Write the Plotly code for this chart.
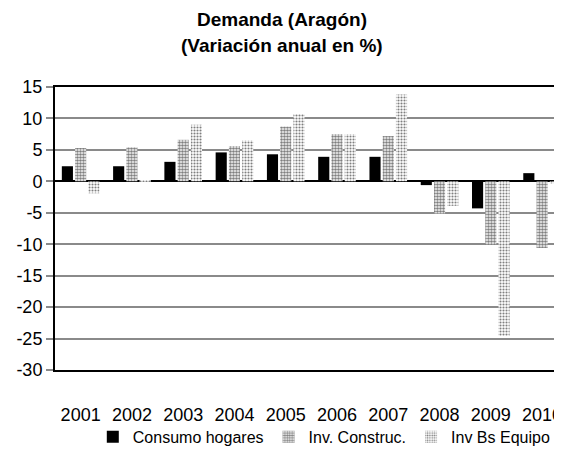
import plotly.graph_objects as go

years = ["2001", "2002", "2003", "2004", "2005", "2006", "2007", "2008", "2009", "2010"]
consumo_hogares = [2.4, 2.4, 3.1, 4.6, 4.3, 3.9, 3.9, -0.6, -4.3, 1.3]
inv_construc = [5.3, 5.4, 6.6, 5.6, 8.7, 7.5, 7.2, -5.1, -10.1, -10.6]
inv_bs_equipo = [-1.9, 0.2, 9.0, 6.5, 10.7, 7.5, 13.8, -3.9, -24.6, -0.4]
y_ticks = [15, 10, 5, 0, -5, -10, -15, -20, -25, -30]

FONT = "Liberation Sans, Arial, sans-serif"

fig = go.Figure()
fig.add_trace(go.Bar(
    name="Consumo hogares", x=years, y=consumo_hogares,
    marker=dict(color="#000000", line=dict(width=0)),
))
fig.add_trace(go.Bar(
    name="Inv. Construc.", x=years, y=inv_construc,
    marker=dict(color="#ffffff", line=dict(width=0),
                pattern=dict(shape=".", fgcolor="#000000", bgcolor="#ffffff",
                             size=3, solidity=0.6)),
))
fig.add_trace(go.Bar(
    name="Inv Bs Equipo", x=years, y=inv_bs_equipo,
    marker=dict(color="#ffffff", line=dict(width=0),
                pattern=dict(shape=".", fgcolor="#000000", bgcolor="#ffffff",
                             size=3, solidity=0.4)),
))

fig.update_layout(
    width=554, height=453,
    margin=dict(l=47, r=0, t=79, b=91),
    paper_bgcolor="white", plot_bgcolor="white",
    barmode="group", bargap=0.225, bargroupgap=0.16,
    font=dict(family=FONT, size=16, color="#000000"),
    showlegend=True,
    legend=dict(orientation="h", x=0.075, xanchor="left", y=-0.236, yanchor="middle",
                font=dict(size=16), bgcolor="rgba(0,0,0,0)", traceorder="normal",
                itemwidth=30),
    annotations=[
        dict(text="<b>Demanda (Aragón)</b>", xref="paper", yref="paper",
             x=0.45, y=1.237, xanchor="center", yanchor="middle", showarrow=False,
             borderpad=0, font=dict(family=FONT, size=19)),
        dict(text="<b>(Variación anual en %)</b>", xref="paper", yref="paper",
             x=0.45, y=1.148, xanchor="center", yanchor="middle", showarrow=False,
             borderpad=0, font=dict(family=FONT, size=19)),
    ],
)
fig.update_xaxes(
    type="category", range=[-0.5, 9.33],
    showline=True, mirror=True, linecolor="#000000", linewidth=2,
    showgrid=False, ticks="outside", ticklen=27, tickcolor="rgba(0,0,0,0)",
    tickfont=dict(size=18),
)
fig.update_yaxes(
    range=[-30, 15], tickvals=y_ticks, ticktext=[str(v) for v in y_ticks],
    showline=True, linecolor="#000000", linewidth=2,
    showgrid=True, gridcolor="#8a8a8a", gridwidth=1.5,
    zeroline=True, zerolinecolor="#000000", zerolinewidth=2,
    ticks="outside", ticklen=7, tickcolor="#8a8a8a", tickwidth=1.5,
    tickfont=dict(size=18),
)

fig.write_html("out.html")
